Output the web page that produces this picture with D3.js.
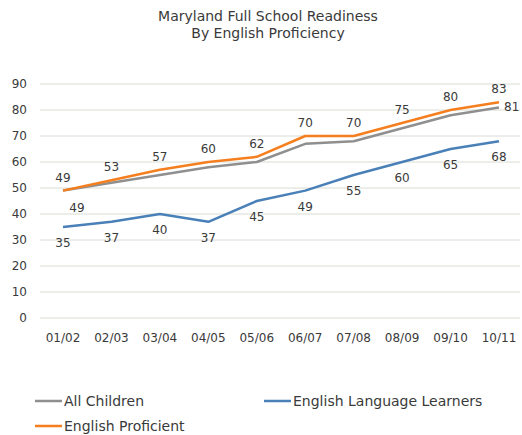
<!DOCTYPE html>
<html>
<head>
<meta charset="utf-8">
<script src="https://cdn.jsdelivr.net/npm/d3@7"></script>
<style>
  body { margin: 0; background: #fff; }
  text { font-family: "DejaVu Sans", Verdana, sans-serif; fill: #3a3a3a; }
</style>
</head>
<body>
<div id="chart"></div>
<script>
var years = ["01/02", "02/03", "03/04", "04/05", "05/06", "06/07", "07/08", "08/09", "09/10", "10/11"];
var allChildren = [49, 52, 55, 58, 60, 67, 68, 73, 78, 81];
var ell = [35, 37, 40, 37, 45, 49, 55, 60, 65, 68];
var proficient = [49, 53, 57, 60, 62, 70, 70, 75, 80, 83];
var yTicks = [0, 10, 20, 30, 40, 50, 60, 70, 80, 90];

var width = 522,
    height = 435;

var svg = d3.select("#chart")
    .append("svg")
    .attr("width", width)
    .attr("height", height);

// title
svg.append("text")
    .attr("x", 268).attr("y", 21)
    .attr("text-anchor", "middle")
    .style("font-size", "14px")
    .text("Maryland Full School Readiness");
svg.append("text")
    .attr("x", 268).attr("y", 38)
    .attr("text-anchor", "middle")
    .style("font-size", "14px")
    .text("By English Proficiency");

var x = d3.scalePoint()
    .domain(years)
    .range([63, 499]);

var y = d3.scaleLinear()
    .domain([0, 90])
    .range([318, 84]);

/* gridlines */
svg.append("g")
    .selectAll("line")
    .data(yTicks)
    .enter().append("line")
        .attr("x1", 40)
        .attr("x2", 520)
        .attr("y1", function(d) { return y(d); })
        .attr("y2", function(d) { return y(d); })
        .attr("stroke", "#d9dcd3")
        .attr("stroke-width", 1);

/* y axis labels */
svg.append("g")
    .selectAll("text")
    .data(yTicks)
    .enter().append("text")
        .attr("x", 27)
        .attr("y", function(d) { return y(d) + 4; })
        .attr("text-anchor", "end")
        .style("font-size", "12px")
        .text(function(d) { return d; });

/* x axis labels */
svg.append("g")
    .selectAll("text")
    .data(years)
    .enter().append("text")
        .attr("x", function(d) { return x(d); })
        .attr("y", 342)
        .attr("text-anchor", "middle")
        .style("font-size", "12px")
        .text(function(d) { return d; });

var series = [
    { name: "All Children", values: allChildren, color: "#8f8f8f" },
    { name: "English Language Learners", values: ell, color: "#4a80b8" },
    { name: "English Proficient", values: proficient, color: "#f57f1e" }
];

var line = d3.line()
    .x(function(d, i) { return x(years[i]); })
    .y(function(d) { return y(d); });

series.forEach(function(s) {
    svg.append("path")
        .datum(s.values)
        .attr("d", line)
        .attr("fill", "none")
        .attr("stroke", s.color)
        .attr("stroke-width", 2.5)
        .attr("stroke-linejoin", "round");
});

// data labels
svg.append("g")
    .selectAll("text")
    .data(proficient)
    .enter().append("text")
        .attr("x", function(d, i) { return x(years[i]); })
        .attr("y", function(d) { return y(d) - 9; })
        .attr("text-anchor", "middle")
        .style("font-size", "12px")
        .text(function(d) { return d; });

svg.append("g")
    .selectAll("text")
    .data(ell)
    .enter().append("text")
        .attr("x", function(d, i) { return x(years[i]); })
        .attr("y", function(d) { return y(d) + 20; })
        .attr("text-anchor", "middle")
        .style("font-size", "12px")
        .text(function(d) { return d; });

// only first and last of All Children are labelled
svg.append("text")
    .attr("x", x(years[0]) + 14)
    .attr("y", y(allChildren[0]) + 21)
    .attr("text-anchor", "middle")
    .style("font-size", "12px")
    .text(allChildren[0]);
svg.append("text")
    .attr("x", x(years[9]) + 5)
    .attr("y", y(allChildren[9]) + 4)
    .style("font-size", "12px")
    .text(allChildren[9]);

/* legend */
var legendPos = [[35, 401], [264, 401], [35, 426]];
series.forEach(function(s, i) {
    var g = svg.append("g")
        .attr("transform", "translate(" + legendPos[i][0] + "," + legendPos[i][1] + ")");
    g.append("line")
        .attr("x1", 0).attr("x2", 27)
        .attr("y1", 0).attr("y2", 0)
        .attr("stroke", s.color)
        .attr("stroke-width", 2.5);
    g.append("text")
        .attr("x", 29).attr("y", 5)
        .style("font-size", "14px")
        .text(s.name);
});
</script>
</body>
</html>
